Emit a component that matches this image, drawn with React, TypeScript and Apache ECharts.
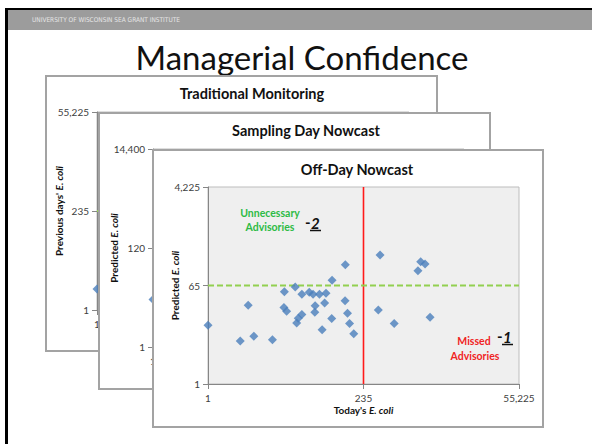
import React, { useEffect, useRef } from "react";
import * as echarts from "echarts";

// ---- data ----
const cardTitles = ["Traditional Monitoring", "Sampling Day Nowcast", "Off-Day Nowcast"];
const yNameLead = ["Previous days' ", "Predicted ", "Predicted "];
const xAxisMax = 55225;
const xThreshold = 235;
const yAxisMax = [55225, 14400, 4225];
const yThreshold = [235, 120, 65];

const traditionalToday = [1];
const traditionalPrevious = [3.2];
const samplingToday = [1];
const samplingPredicted = [10];

const offDayToday = [
  1, 3.1, 4.1, 5, 9.6, 14.6, 14.4, 15.8, 21.4, 27, 22.5, 23.8, 27, 35, 40, 50, 63, 43,
  42.5, 60, 55, 78, 77, 124, 123, 134, 144, 167, 420, 1750, 2040, 1590, 395, 690, 2430,
];
const offDayPredicted = [
  12, 6.2, 28, 7.6, 6.5, 50, 25.6, 21.8, 61, 45, 13.3, 16.2, 19, 49, 45, 45, 47, 27.5,
  21, 31, 10, 81, 16, 157, 34, 20, 13, 8.4, 237, 178, 162, 121, 23, 13, 17,
];

const cardXs = [traditionalToday, samplingToday, offDayToday];
const cardYs = [traditionalPrevious, samplingPredicted, offDayPredicted];

// ---- layout / style ----
const FONT = "Lato, 'Open Sans', sans-serif";
const cardBoxes = [
  { x: 46, y: 76, w: 391, h: 275 },
  { x: 99, y: 113, w: 391, h: 276 },
  { x: 153, y: 150, w: 390, h: 277 },
];
const gridBoxes = [
  { left: 97, top: 112, width: 312, height: 198 },
  { left: 153, top: 149, width: 311, height: 198 },
  { left: 208, top: 187, width: 311, height: 197 },
];
const yNameGaps = [33, 34, 28];
const titleX = [252, 306, 357];
const titleY = [93, 130, 169];
const fmt = (v: number) => Math.round(v).toLocaleString("en-US");
// the cards behind only show the first x label; the rest sits under the next card
const fmtFirstOnly = (v: number) => (Math.round(v) === 1 ? "1" : "");

export default function App() {
  const ref = useRef<HTMLDivElement>(null);
  useEffect(() => {
    if (!ref.current) return;
    const chart = echarts.init(ref.current, undefined, { renderer: "svg" });
    const grids: any[] = [];
    const xAxes: any[] = [];
    const yAxes: any[] = [];
    const series: any[] = [];
    const graphics: any[] = [
      { type: "rect", z: 0, shape: { x: 8, y: 10, width: 584, height: 20 }, style: { fill: "#9c9c9c" } },
      { type: "rect", z: 0, shape: { x: 5, y: 8, width: 587, height: 2 }, style: { fill: "#000" } },
      { type: "rect", z: 0, shape: { x: 5, y: 8, width: 3, height: 436 }, style: { fill: "#000" } },
      {
        type: "text", z: 1, x: 32, y: 20,
        style: { text: "UNIVERSITY OF WISCONSIN SEA GRANT INSTITUTE", fill: "#e6e6e6", fontSize: 6.5, fontFamily: "'Liberation Sans Narrow', 'DejaVu Sans Condensed', sans-serif", verticalAlign: "middle" },
      },
      {
        type: "text", z: 1, x: 302, y: 57,
        style: { text: "Managerial Confidence", fill: "#111", fontSize: 33, fontFamily: FONT, align: "center", verticalAlign: "middle" },
      },
    ];

    const richName = {
      b: { fontSize: 10, fontWeight: "bold", fontFamily: FONT, color: "#111" },
      i: { fontSize: 10, fontWeight: "bold", fontStyle: "italic", fontFamily: FONT, color: "#111" },
    };

    for (let i = 0; i < 3; i++) {
      const base = i * 10 + 1;
      const front = i === 2;
      const c = cardBoxes[i];
      graphics.push({
        type: "rect", z: base,
        shape: { x: c.x, y: c.y, width: c.w, height: c.h },
        style: { fill: "#fff", stroke: "#a3a3a3", lineWidth: 2 },
      });
      graphics.push({
        type: "text", z: base + 5, x: titleX[i], y: titleY[i],
        style: { text: cardTitles[i], fill: "#111", fontSize: 14.5, fontWeight: "bold", fontFamily: FONT, align: "center", verticalAlign: "middle" },
      });
      grids.push({
        ...gridBoxes[i], show: true, z: base + 1,
        backgroundColor: "#efefef", borderColor: "#bdbdbd", borderWidth: 1,
      });
      const axisCommon = {
        type: "log", min: 1, gridIndex: i, z: base + 2,
        axisLine: { show: true, lineStyle: { color: "#868686", width: 1 } },
        axisTick: { show: true, inside: false, length: 5, lineStyle: { color: "#868686" } },
        minorTick: { show: false },
        splitLine: { show: false },
        axisLabel: { color: "#404040", fontSize: 10, fontFamily: FONT, formatter: fmt },
      };
      xAxes.push({
        ...axisCommon, logBase: xThreshold, max: xAxisMax,
        axisLabel: { ...axisCommon.axisLabel, margin: 9, formatter: front ? fmt : fmtFirstOnly },
        name: front ? "{b|Today's }{i|E. coli}" : "", nameLocation: "middle", nameGap: 21,
        nameMoveOverlap: false,
        nameTextStyle: { rich: richName },
      });
      yAxes.push({
        ...axisCommon, logBase: yThreshold[i], max: yAxisMax[i],
        axisLabel: { ...axisCommon.axisLabel, margin: 8 },
        name: `{b|${yNameLead[i]}}{i|E. coli}`, nameLocation: "middle", nameGap: yNameGaps[i],
        nameMoveOverlap: false,
        nameTextStyle: { rich: richName },
      });
      series.push({
        type: "line", xAxisIndex: i, yAxisIndex: i, z: base + 3, symbol: "none", silent: true,
        data: [[xThreshold, 1], [xThreshold, yAxisMax[i]]],
        lineStyle: { color: "#ff1a1a", width: 1.6 },
      });
      series.push({
        type: "line", xAxisIndex: i, yAxisIndex: i, z: base + 3, symbol: "none", silent: true,
        data: [[1, yThreshold[i]], [xAxisMax, yThreshold[i]]],
        lineStyle: { color: "#92d050", width: 2, type: [6, 3] },
      });
      series.push({
        type: "scatter", xAxisIndex: i, yAxisIndex: i, z: base + 4,
        symbol: "diamond", symbolSize: 9,
        itemStyle: { color: "#4a7ebb" },
        data: cardXs[i].map((x, k) => [x, cardYs[i][k]]),
      });
    }

    graphics.push(
      { type: "text", z: 30, x: 270, y: 213, style: { text: "Unnecessary", fill: "#2dbb45", fontSize: 10.5, fontWeight: "bold", fontFamily: FONT, align: "center", verticalAlign: "middle" } },
      { type: "text", z: 30, x: 270, y: 227, style: { text: "Advisories", fill: "#2dbb45", fontSize: 10.5, fontWeight: "bold", fontFamily: FONT, align: "center", verticalAlign: "middle" } },
      { type: "text", z: 30, x: 305, y: 222, style: { text: "-", fill: "#111", fontSize: 15, fontWeight: "bold", fontFamily: FONT, verticalAlign: "middle" } },
      { type: "text", z: 30, x: 311, y: 223, style: { text: "2", fill: "#111", fontSize: 15, fontWeight: "bold", fontStyle: "italic", fontFamily: FONT, verticalAlign: "middle" } },
      { type: "line", z: 30, shape: { x1: 310, y1: 230.5, x2: 321, y2: 230.5 }, style: { stroke: "#111", lineWidth: 1.5 } },
      { type: "text", z: 30, x: 474, y: 341, style: { text: "Missed", fill: "#f02424", fontSize: 10.5, fontWeight: "bold", fontFamily: FONT, align: "center", verticalAlign: "middle" } },
      { type: "text", z: 30, x: 475, y: 356, style: { text: "Advisories", fill: "#f02424", fontSize: 10.5, fontWeight: "bold", fontFamily: FONT, align: "center", verticalAlign: "middle" } },
      { type: "text", z: 30, x: 497, y: 336, style: { text: "-", fill: "#111", fontSize: 15, fontWeight: "bold", fontFamily: FONT, verticalAlign: "middle" } },
      { type: "text", z: 30, x: 503, y: 337, style: { text: "1", fill: "#111", fontSize: 15, fontWeight: "bold", fontStyle: "italic", fontFamily: FONT, verticalAlign: "middle" } },
      { type: "line", z: 30, shape: { x1: 502, y1: 344.5, x2: 513, y2: 344.5 }, style: { stroke: "#111", lineWidth: 1.5 } },
    );

    chart.setOption({
      animation: false,
      backgroundColor: "#fff",
      grid: grids,
      xAxis: xAxes,
      yAxis: yAxes,
      series,
      graphic: graphics,
    });
    return () => chart.dispose();
  }, []);
  return <div ref={ref} style={{ position: "fixed", left: 0, top: 0, width: 592, height: 444 }} />;
}
